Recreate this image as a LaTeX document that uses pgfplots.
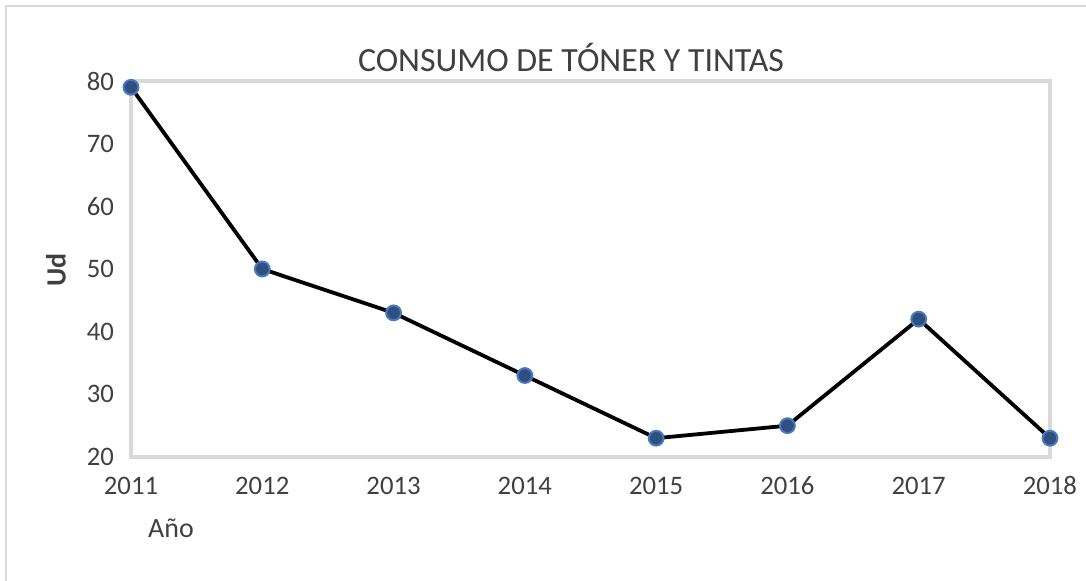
\documentclass[border=0pt]{standalone}
\usepackage{fontspec}
\setmainfont{Carlito}
\usepackage{pgfplots}
\pgfplotsset{compat=1.18}

\definecolor{txt}{HTML}{404040}
\definecolor{frame}{HTML}{D9D9D9}
\definecolor{mkfill}{HTML}{2F4F80}
\definecolor{mkedge}{HTML}{4A78C0}

\begin{document}
\begin{tikzpicture}
% page = 1086 x 581 px at 0.5bp per px
\useasboundingbox (0,0) rectangle (543bp,-290.5bp);
\draw[frame, line width=0.8bp] (3bp,-290.5bp) -- (3bp,-3bp) -- (543bp,-3bp);

\begin{axis}[
    at={(65.5bp,-40.5bp)}, anchor=north west,
    scale only axis,
    width=459.5bp, height=188bp,
    xmin=2011, xmax=2018,
    ymin=20, ymax=80,
    xtick={2011,...,2018},
    ytick={20,30,...,80},
    xticklabel style={/pgf/number format/1000 sep={}, text height=9bp, text depth=1bp, yshift=-6bp},
    yticklabel style={xshift=-5bp},
    /pgf/number format/assume math mode=true,
    tick label style={font=\fontsize{13.4}{15}\selectfont, text=txt},
    major tick length=0pt,
    axis line style={frame, line width=2bp},
    clip=false,
]
\addplot[black, line width=1.9bp, mark=*,
    mark options={fill=mkfill, draw=mkedge, line width=1bp},
    mark size=3.7bp] coordinates {
    (2011, 79)
    (2012, 50)
    (2013, 43)
    (2014, 33)
    (2015, 23)
    (2016, 25)
    (2017, 42)
    (2018, 23)
};
\end{axis}

\node[text=txt, font=\fontsize{17}{20}\selectfont] at (285.5bp,-28.5bp) {CONSUMO DE TÓNER Y TINTAS};
\node[text=txt, font=\bfseries\fontsize{14}{16}\selectfont, rotate=90] at (28bp,-135bp) {Ud};
\node[text=txt, font=\fontsize{14}{16}\selectfont] at (85.5bp,-264bp) {Año};
\end{tikzpicture}
\end{document}
